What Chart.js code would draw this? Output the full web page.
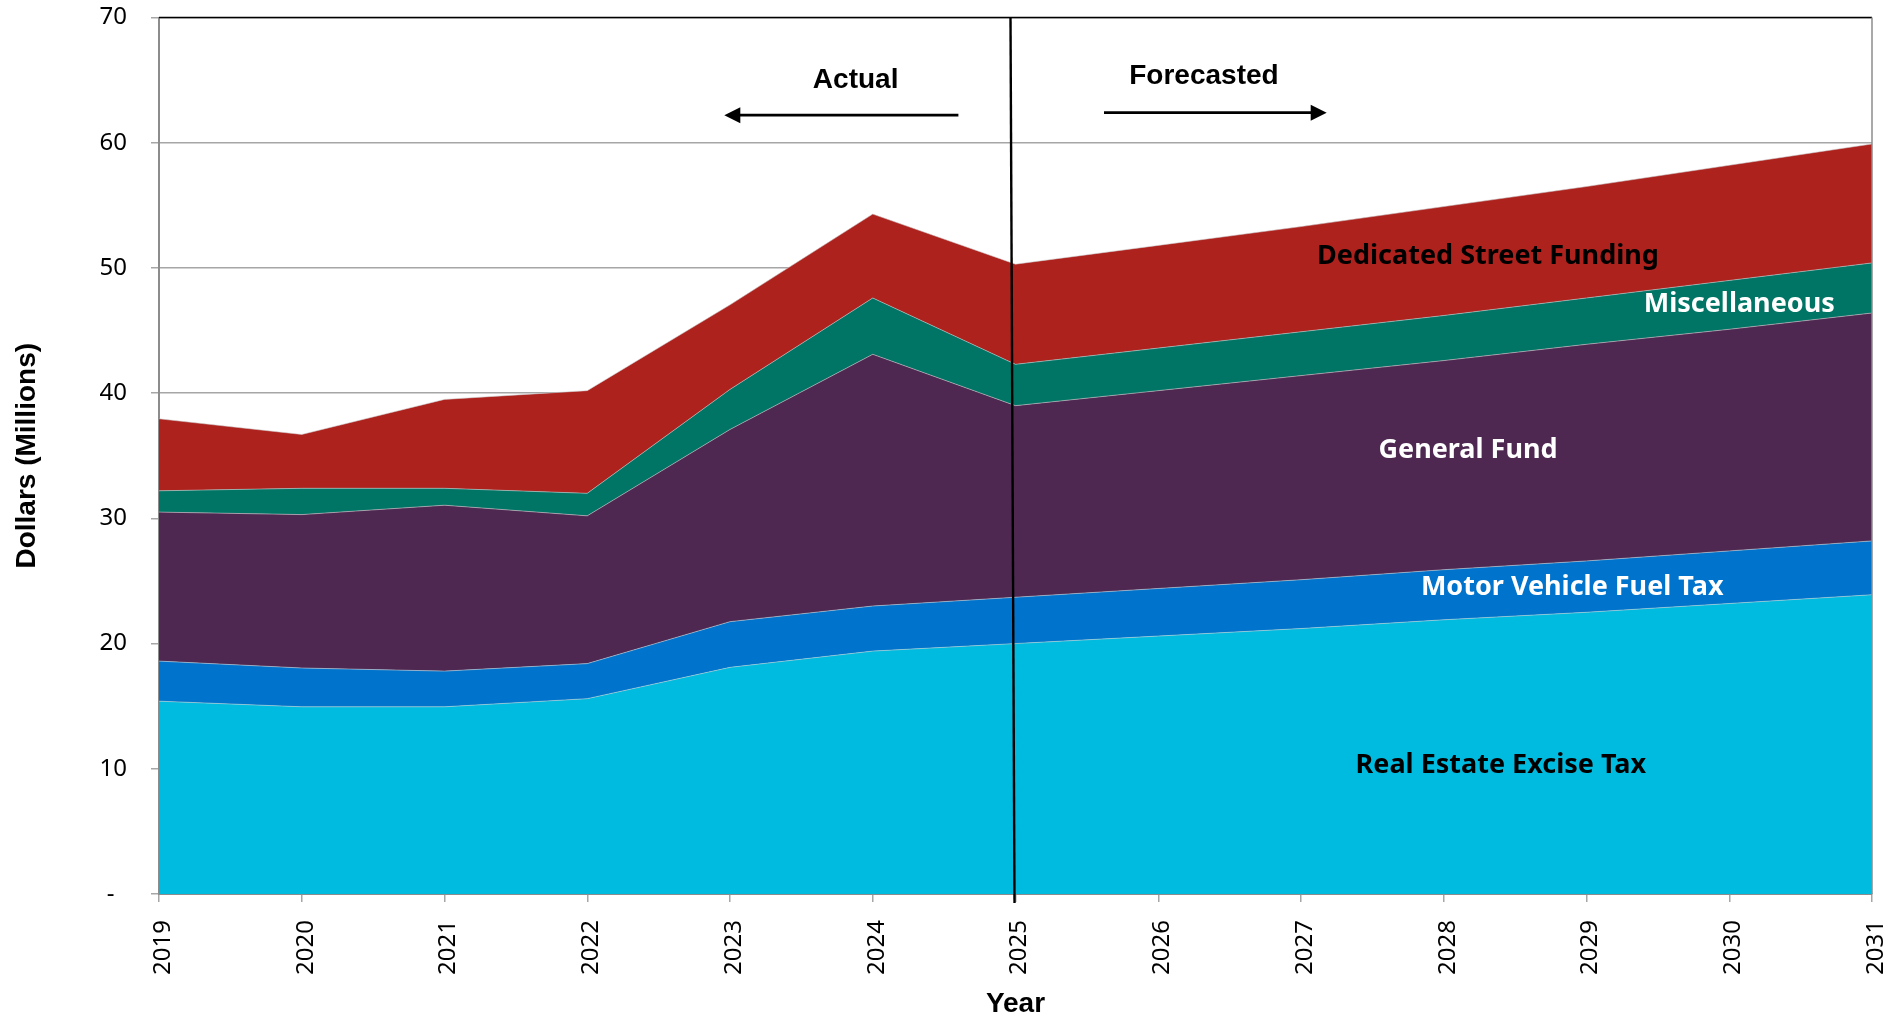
<!DOCTYPE html>
<html>
<head>
<meta charset="utf-8">
<script src="https://cdn.jsdelivr.net/npm/chart.js@4.4.1/dist/chart.umd.min.js"></script>
<style>
	html, body { margin: 0; padding: 0; background: #fff; }
	#wrap { width: 1902px; height: 1021px; }
</style>
</head>
<body>
<div id="wrap"><canvas id="streetFundingSources" width="1902" height="1021"></canvas></div>
<script>
// values in $ millions
const years = ['2019', '2020', '2021', '2022', '2023', '2024', '2025', '2026', '2027', '2028', '2029', '2030', '2031'];
const realEstateExciseTax   = [15.4, 14.95, 14.95, 15.6, 18.1, 19.4, 20.0, 20.6, 21.2, 21.9, 22.5, 23.2, 23.9];
const motorVehicleFuelTax   = [3.2, 3.1, 2.85, 2.8, 3.65, 3.6, 3.7, 3.8, 3.9, 4.0, 4.1, 4.2, 4.3];
const generalFund           = [11.9, 12.25, 13.25, 11.8, 15.35, 20.1, 15.3, 15.8, 16.3, 16.7, 17.3, 17.7, 18.2];
const miscellaneous         = [1.7, 2.1, 1.35, 1.8, 3.2, 4.5, 3.3, 3.4, 3.5, 3.6, 3.7, 3.9, 4.0];
const dedicatedStreetFunding = [5.75, 4.3, 7.1, 8.2, 6.75, 6.7, 8.0, 8.2, 8.4, 8.7, 8.9, 9.2, 9.5];
const yTicks = [0, 10, 20, 30, 40, 50, 60, 70];

const labelFont = '"Noto Sans", "Open Sans", sans-serif';
const titleFont = '"Liberation Sans", Arial, sans-serif';

function makeArea(label, data, color, fill) {
	return {
		label: label,
		data: data,
		backgroundColor: color,
		borderColor: 'rgba(205, 205, 205, 0.7)',
		borderWidth: 0.8,
		pointRadius: 0,
		tension: 0,
		fill: fill
	};
}

// area names, arrows and the actual/forecast divider
const areaLabels = [
	{ text: 'Dedicated Street Funding', x: 9.31, y: 50.9, color: '#000' },
	{ text: 'Miscellaneous', x: 11.07, y: 47.1, color: '#fff' },
	{ text: 'General Fund', x: 9.17, y: 35.4, color: '#fff' },
	{ text: 'Motor Vehicle Fuel Tax', x: 9.9, y: 24.5, color: '#fff' },
	{ text: 'Real Estate Excise Tax', x: 9.4, y: 10.3, color: '#000' }
];

function drawArrow(ctx, x1, x2, yPix, headAtEnd) {
	ctx.save();
	ctx.strokeStyle = '#000';
	ctx.fillStyle = '#000';
	ctx.lineWidth = 2.7;
	let tip = headAtEnd ? x2 : x1;
	let dir = headAtEnd ? 1 : -1;
	ctx.beginPath();
	ctx.moveTo(headAtEnd ? x1 : x1 + 12, yPix);
	ctx.lineTo(headAtEnd ? x2 - 12 : x2, yPix);
	ctx.stroke();
	ctx.beginPath();
	ctx.moveTo(tip, yPix);
	ctx.lineTo(tip - dir * 16, yPix - 8);
	ctx.lineTo(tip - dir * 16, yPix + 8);
	ctx.closePath();
	ctx.fill();
	ctx.restore();
}

const forecastMarks = {
	id: 'forecastMarks',
	afterDatasetsDraw(chart) {
		const ctx = chart.ctx;
		const area = chart.chartArea;
		const x = chart.scales.x;
		const y = chart.scales.y;

		// frame: black top edge, grey right edge
		ctx.save();
		ctx.strokeStyle = '#000';
		ctx.lineWidth = 1.5;
		ctx.beginPath();
		ctx.moveTo(area.left, area.top);
		ctx.lineTo(area.right, area.top);
		ctx.stroke();
		ctx.strokeStyle = '#8c8c8c';
		ctx.beginPath();
		ctx.moveTo(area.right, area.top);
		ctx.lineTo(area.right, area.bottom);
		ctx.stroke();

		// divider at 2025
		let xd = x.getPixelForValue(6);
		ctx.strokeStyle = '#000';
		ctx.lineWidth = 2.4;
		ctx.beginPath();
		ctx.moveTo(xd - 5, area.top);
		ctx.lineTo(xd - 1, area.bottom + 9);
		ctx.stroke();
		ctx.restore();

		ctx.save();
		ctx.textAlign = 'center';
		ctx.textBaseline = 'middle';
		ctx.fillStyle = '#000';
		ctx.font = 'bold 28px ' + titleFont;
		ctx.fillText('Actual', x.getPixelForValue(4.88), y.getPixelForValue(65.0));
		ctx.fillText('Forecasted', x.getPixelForValue(7.32), y.getPixelForValue(65.3));
		ctx.restore();

		drawArrow(ctx, x.getPixelForValue(3.96), x.getPixelForValue(5.6), y.getPixelForValue(62.2), false);
		drawArrow(ctx, x.getPixelForValue(6.62), x.getPixelForValue(8.18), y.getPixelForValue(62.4), true);

		ctx.save();
		ctx.textAlign = 'center';
		ctx.textBaseline = 'middle';
		ctx.font = 'bold 27px ' + labelFont;
		areaLabels.forEach(item => {
			ctx.fillStyle = item.color;
			ctx.fillText(item.text, x.getPixelForValue(item.x), y.getPixelForValue(item.y));
		});
		ctx.restore();
	}
};

let target = document.getElementById('streetFundingSources');
new Chart(target, {
	type: 'line',
	data: {
		labels: years,
		datasets: [
			makeArea('Real Estate Excise Tax', realEstateExciseTax, 'rgb(0, 187, 224)', 'origin'),
			makeArea('Motor Vehicle Fuel Tax', motorVehicleFuelTax, 'rgb(0, 116, 204)', '-1'),
			makeArea('General Fund', generalFund, 'rgb(79, 40, 82)', '-1'),
			makeArea('Miscellaneous', miscellaneous, 'rgb(0, 117, 102)', '-1'),
			makeArea('Dedicated Street Funding', dedicatedStreetFunding, 'rgb(174, 34, 30)', '-1')
		]
	},
	plugins: [forecastMarks],
	options: {
		responsive: false,
		animation: false,
		layout: { padding: { top: 17.5, right: 30, bottom: 0, left: 0 } },
		plugins: {
			legend: { display: false },
			tooltip: { enabled: false }
		},
		scales: {
			x: {
				offset: false,
				ticks: {
					autoSkip: false,
					minRotation: 90,
					maxRotation: 90,
					padding: 18,
					labelOffset: 4,
					color: '#000',
					font: { family: labelFont, size: 24 }
				},
				grid: { drawOnChartArea: false, tickLength: 8, color: '#a6a6a6', lineWidth: 1.5 },
				border: { color: '#8c8c8c', width: 2 },
				title: {
					display: true,
					text: 'Year',
					color: '#000',
					font: { family: titleFont, size: 28, weight: 'bold' },
					padding: { top: 0, bottom: 0 }
				},
				afterFit(scale) {
					scale.height = 127;
					scale.paddingLeft = 0;
					scale.paddingRight = 0;
				}
			},
			y: {
				stacked: true,
				min: yTicks[0],
				max: yTicks[yTicks.length - 1],
				afterBuildTicks(scale) { scale.ticks = yTicks.map(v => ({ value: v })); },
				ticks: {
					padding: 24,
					color: '#000',
					font: { family: labelFont, size: 24 },
					callback: v => v === 0 ? '-  ' : v
				},
				grid: { color: '#a6a6a6', lineWidth: 1.5, tickLength: 8 },
				border: { color: '#8c8c8c', width: 2 },
				title: {
					display: true,
					text: 'Dollars (Millions)',
					color: '#000',
					font: { family: titleFont, size: 28, weight: 'bold' },
					padding: { top: 10, bottom: 0 }
				},
				afterFit(scale) {
					scale.width = 159;
					scale.paddingTop = 0;
					scale.paddingBottom = 0;
				}
			}
		}
	}
});
</script>
</body>
</html>
